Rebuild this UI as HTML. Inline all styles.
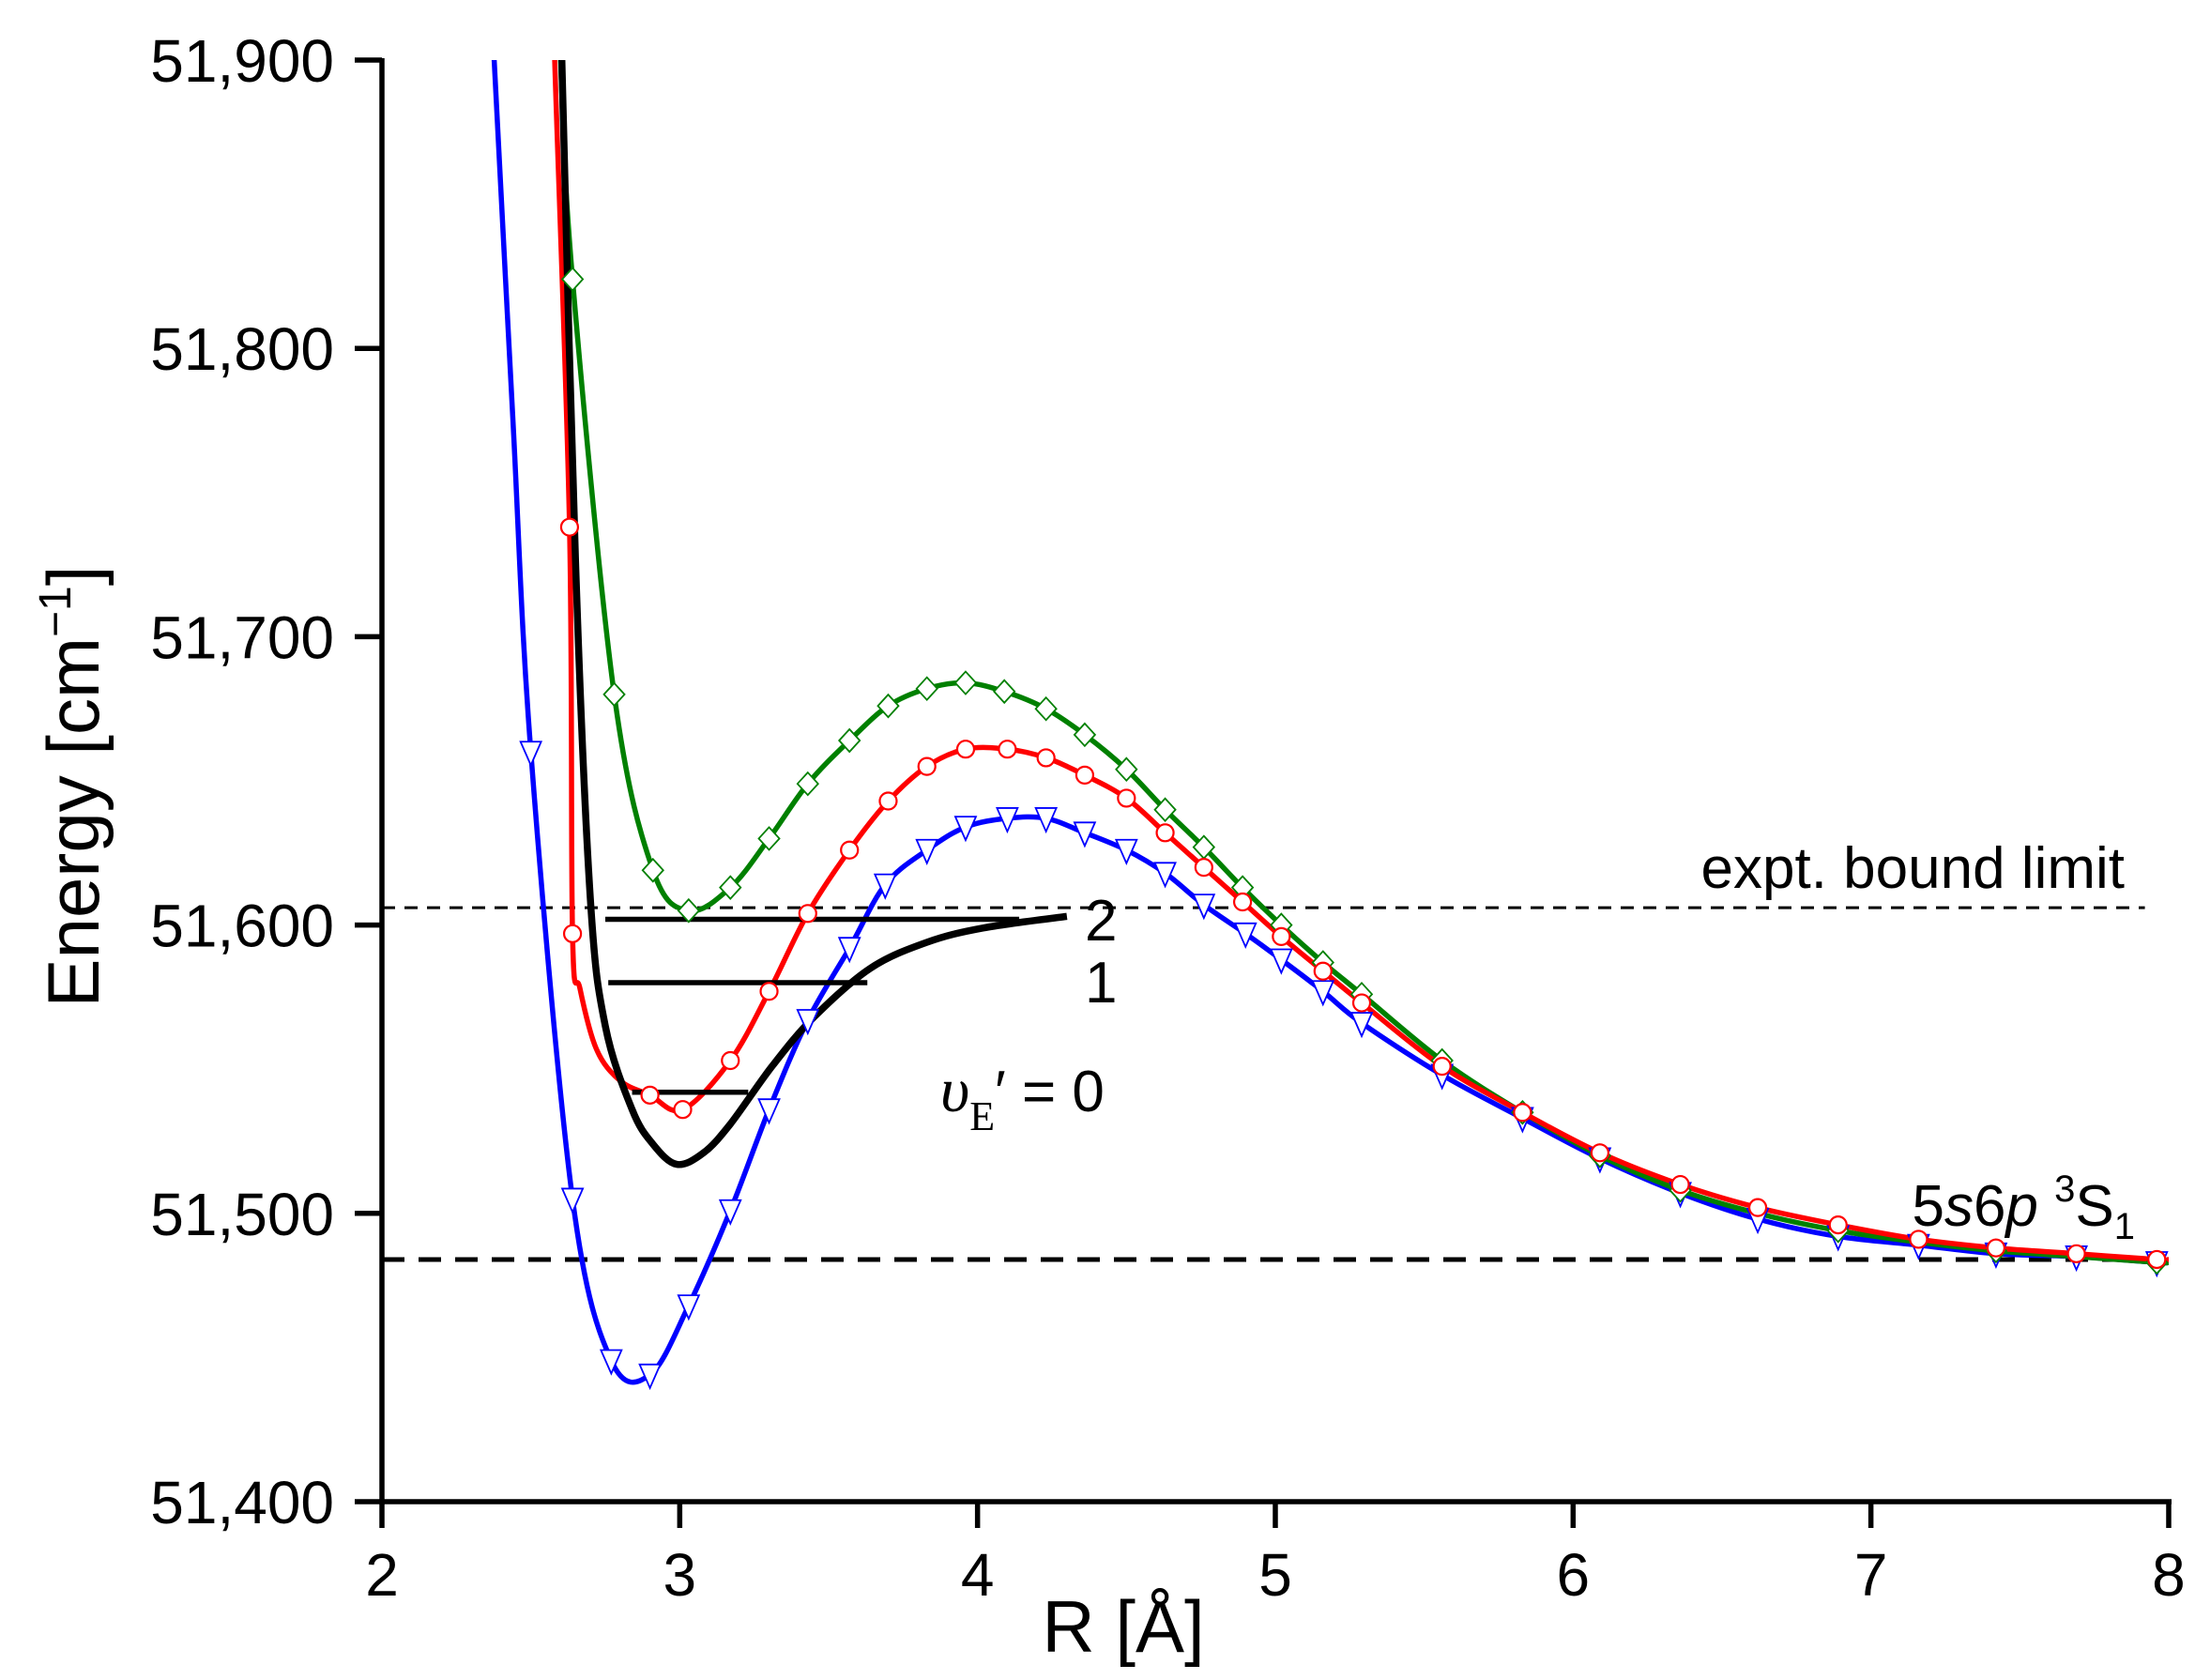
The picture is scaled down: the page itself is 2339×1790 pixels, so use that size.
<!DOCTYPE html>
<html><head><meta charset="utf-8"><style>
html,body{margin:0;padding:0;background:#fff;}
svg{display:block;font-family:"Liberation Sans",sans-serif;}
</style></head><body>
<svg id="chart" width="2339" height="1790" viewBox="0 0 2339 1790" xmlns="http://www.w3.org/2000/svg">
<defs><clipPath id="plotclip"><rect x="407" y="64" width="1904" height="1536"/></clipPath></defs>
<g id="series" clip-path="url(#plotclip)"></g>
<g id="axes"></g>
<g id="labels"></g>
</svg>
<script>
const xTicks = [2,3,4,5,6,7,8];
const yTicks = [51400,51500,51600,51700,51800,51900];
const yTickLabels = ["51,400","51,500","51,600","51,700","51,800","51,900"];
const blueR = [2.35,2.377,2.44,2.50,2.64,2.77,2.90,3.03,3.17,3.30,3.43,3.57,3.69,3.83,3.96,4.10,4.23,4.36,4.50,4.63,4.76,4.90,5.02,5.16,5.29,5.56,5.83,6.09,6.36,6.62,6.89,7.16,7.42,7.69,7.96,8.0];
const blueE = [51960,51900,51775,51660,51505,51449,51444,51468,51501,51536,51567,51592,51614,51626,51634,51637,51637,51632,51626,51618,51607,51597,51588,51577,51566,51548,51533,51519,51507,51498,51492,51489,51486,51485,51483,51483];
const blueMarked = [3,4,5,6,7,8,9,10,11,12,13,14,15,16,17,18,19,20,21,22,23,24,25,26,27,28,29,30,31,32,33,34];
const redR = [2.565,2.58,2.63,2.64,2.665,2.72,2.80,2.90,3.01,3.17,3.30,3.43,3.57,3.70,3.83,3.96,4.10,4.23,4.36,4.50,4.63,4.76,4.89,5.02,5.16,5.29,5.56,5.83,6.09,6.36,6.62,6.89,7.16,7.42,7.69,7.96,8.0];
const redE = [51960,51900,51738,51597,51578,51557,51546,51541,51536,51553,51577,51604,51626,51643,51655,51661,51661,51658,51652,51644,51632,51620,51608,51596,51584,51573,51551,51535,51521,51510,51502,51496,51491,51488,51486,51484,51484];
const redMarked = [2,3,7,8,9,10,11,12,13,14,15,16,17,18,19,20,21,22,23,24,25,26,27,28,29,30,31,32,33,34,35];
const greenR = [2.59,2.60,2.64,2.78,2.91,3.03,3.17,3.30,3.43,3.57,3.70,3.83,3.96,4.09,4.23,4.36,4.50,4.63,4.76,4.89,5.02,5.16,5.29,5.56,5.83,6.09,6.36,6.62,6.89,7.16,7.42,7.69,7.96,8.0];
const greenE = [51960,51900,51824,51680,51619,51605,51613,51630,51649,51664,51676,51682,51684,51681,51675,51666,51654,51640,51627,51613,51600,51587,51576,51553,51535,51520,51508,51500,51494,51490,51487,51485,51483,51483];
const greenMarked = [2,3,4,5,6,7,8,9,10,11,12,13,14,15,16,17,18,19,20,21,22,23,24,25,26,28,30,32];
const blackR = [2.59,2.604,2.65,2.70,2.75,2.84,2.91,2.99,3.08,3.17,3.31,3.45,3.64,3.83,4.02,4.30];
const blackE = [51960,51900,51726,51609,51565,51536,51524,51517,51521,51531,51551,51568,51585,51594,51599,51603];
const levelE = [51542,51580,51602];
const levelR0 = [2.84,2.76,2.75];
const levelR1 = [3.23,3.63,4.14];
const levelLabels = ["0","1","2"];
const exptLimit = 51606;
const atomLimit = 51484;

const NS="http://www.w3.org/2000/svg";
function X(r){return 407+(r-2)*317.33;}
function Y(e){return 64+(51900-e)*3.072;}
function mk(tag,attrs,parent){const el=document.createElementNS(NS,tag);for(const k in attrs)el.setAttribute(k,attrs[k]);parent.appendChild(el);return el;}
function smooth(R,E){
  const p=R.map((r,i)=>[X(r),Y(E[i])]);
  let d="M"+p[0][0].toFixed(1)+","+p[0][1].toFixed(1);
  for(let i=0;i<p.length-1;i++){
    const p0=p[Math.max(0,i-1)],p1=p[i],p2=p[i+1],p3=p[Math.min(p.length-1,i+2)];
    const c1=[p1[0]+(p2[0]-p0[0])/6,p1[1]+(p2[1]-p0[1])/6];
    const c2=[p2[0]-(p3[0]-p1[0])/6,p2[1]-(p3[1]-p1[1])/6];
    d+=" C"+c1[0].toFixed(1)+","+c1[1].toFixed(1)+" "+c2[0].toFixed(1)+","+c2[1].toFixed(1)+" "+p2[0].toFixed(1)+","+p2[1].toFixed(1);
  }
  return d;
}
const gS=document.getElementById('series'),gA=document.getElementById('axes'),gL=document.getElementById('labels');

let l=mk('line',{x1:X(2),x2:X(7.92),y1:Y(exptLimit),y2:Y(exptLimit),stroke:'#000','stroke-width':3,'stroke-dasharray':'14 10'},gS);


l=mk('line',{x1:X(2),x2:X(8),y1:Y(atomLimit),y2:Y(atomLimit),stroke:'#000','stroke-width':5,'stroke-dasharray':'24 15'},gS);



function series(R,E,col,w,name){
  const p=mk('path',{d:smooth(R,E),fill:'none',stroke:col,'stroke-width':w,'stroke-linejoin':'round'},gS);
  
  
}
series(blueR,blueE,'#0000ff',5.5,'blue-curve');
series(greenR,greenE,'#008000',5.5,'green-curve');
series(redR,redE,'#ff0000',5.5,'red-curve');
series(blackR,blackE,'#000',7.5,'black-curve');

for(let i=0;i<levelE.length;i++){
  const ln=mk('line',{x1:X(levelR0[i]),x2:X(levelR1[i]),y1:Y(levelE[i]),y2:Y(levelE[i]),stroke:'#000','stroke-width':5.5},gS);
  
  
}

blueMarked.forEach(i=>{
  const x=X(blueR[i]),y=Y(blueE[i]);
  const m=mk('polygon',{points:`${x-11},${y-11} ${x+11},${y-11} ${x},${y+14}`,fill:'#fff',stroke:'#0000ff','stroke-width':1.8},gS);
  
  
});
greenMarked.forEach(i=>{
  const x=X(greenR[i]),y=Y(greenE[i]);
  const m=mk('polygon',{points:`${x},${y-12} ${x+11},${y} ${x},${y+12} ${x-11},${y}`,fill:'#fff',stroke:'#008000','stroke-width':1.8},gS);
  
  
});
redMarked.forEach(i=>{
  const m=mk('circle',{cx:X(redR[i]),cy:Y(redE[i]),r:9,fill:'#fff',stroke:'#ff0000','stroke-width':2.2},gS);
  
  
});

let a=mk('line',{x1:407,x2:407,y1:62,y2:1603,stroke:'#000','stroke-width':5.5},gA);


a=mk('line',{x1:405,x2:2314,y1:1600,y2:1600,stroke:'#000','stroke-width':5.5},gA);


yTicks.forEach((v,i)=>{
  const y=Y(v);
  const t=mk('line',{x1:378,x2:407,y1:y,y2:y,stroke:'#000','stroke-width':5.5},gA);
  
  
  const tx=mk('text',{x:356,y:y+23,'text-anchor':'end','font-size':64},gA);
  tx.textContent=yTickLabels[i];
  
  
});
xTicks.forEach(v=>{
  const x=X(v);
  const t=mk('line',{x1:x,x2:x,y1:1600,y2:1628,stroke:'#000','stroke-width':5.5},gA);
  
  
  const tx=mk('text',{x:x,y:1700,'text-anchor':'middle','font-size':64},gA);
  tx.textContent=String(v);
  
  
});
</script>
<svg style="position:absolute;left:0;top:0" width="2339" height="1790">
<text transform="translate(105,838) rotate(-90)" text-anchor="middle" font-family="Liberation Sans, sans-serif" font-size="78">Energy [cm<tspan font-size="48" dy="-30">−1</tspan><tspan dy="30">]</tspan></text>
<text x="1197" y="1760" text-anchor="middle" font-family="Liberation Sans, sans-serif" font-size="78">R [Å]</text>
<text x="2264" y="946" text-anchor="end" font-family="Liberation Sans, sans-serif" font-size="62">expt. bound limit</text>
<text x="2275" y="1306" text-anchor="end" font-family="Liberation Sans, sans-serif" font-size="62">5<tspan font-style="italic">s</tspan>6<tspan font-style="italic">p</tspan> <tspan font-size="40" dy="-26">3</tspan><tspan dy="26">S</tspan><tspan font-size="40" dy="14">1</tspan></text>
<text x="1156" y="1002" font-family="Liberation Sans, sans-serif" font-size="62">2</text>
<text x="1156" y="1068" font-family="Liberation Sans, sans-serif" font-size="62">1</text>
<text x="1002" y="1184" font-family="Liberation Serif, serif" font-size="68" font-style="italic">υ<tspan font-style="normal" font-size="44" dy="20">E</tspan><tspan font-family="Liberation Sans, sans-serif" font-style="normal" font-size="62" dy="-20">′ = 0</tspan></text>
</svg>
</body></html>
